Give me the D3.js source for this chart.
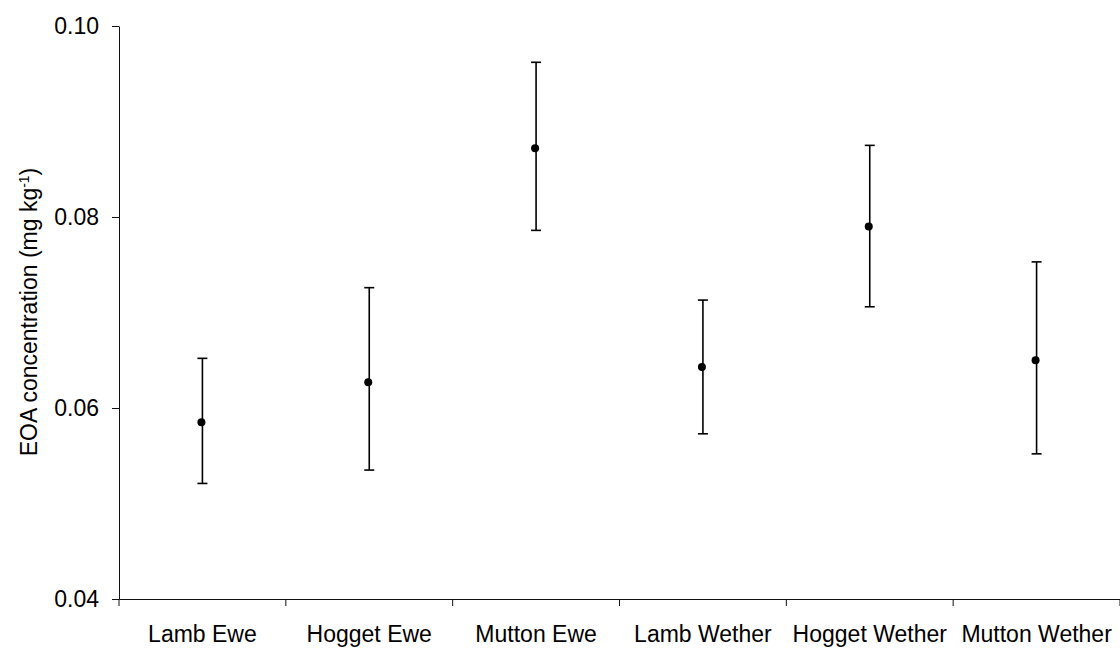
<!DOCTYPE html>
<html>
<head>
<meta charset="utf-8">
<script src="https://cdn.jsdelivr.net/npm/d3@7"></script>
<style>
  body { margin: 0; background: #fff; }
  svg text { font-family: "Liberation Sans", Arial, sans-serif; fill: #000; }
</style>
</head>
<body>
<div id="chart"></div>
<script>
// data
var groups = ["Lamb Ewe", "Hogget Ewe", "Mutton Ewe", "Lamb Wether", "Hogget Wether", "Mutton Wether"];
var means  = [0.0585, 0.0627, 0.0872, 0.0643, 0.0790, 0.0650];
var upper  = [0.0652, 0.0726, 0.0962, 0.0713, 0.0875, 0.0753];
var lower  = [0.0521, 0.0535, 0.0786, 0.0573, 0.0706, 0.0552];
var yTicks = [0.04, 0.06, 0.08, 0.10];

var width = 1120, height = 650;
var plotLeft = 119, plotRight = 1120, plotTop = 26, plotBottom = 599;

var svg = d3.select('#chart').append('svg')
  .attr('width', width)
  .attr('height', height);

var x = d3.scaleBand().domain(groups).range([plotLeft, plotRight]);
var y = d3.scaleLinear().domain([0.04, 0.10]).range([plotBottom, plotTop]);

// y axis
var yAxis = svg.append('g')
  .attr('transform', 'translate(' + plotLeft + ',0)')
  .call(d3.axisLeft(y).tickValues(yTicks).tickFormat(d3.format('.2f')).tickSize(7).tickPadding(13).tickSizeOuter(0));
yAxis.selectAll('text').style('font-size', '23px');
yAxis.selectAll('line, path').attr('stroke', '#111');

// x axis: labels centred in bands, tick marks at band edges
var xAxis = svg.append('g')
  .attr('transform', 'translate(0,' + plotBottom + ')')
  .call(d3.axisBottom(x).tickSize(0).tickPadding(27).tickSizeOuter(0));
xAxis.selectAll('text').style('font-size', '23px');
xAxis.select('path').attr('stroke', '#111');

var edges = groups.map(function (g) { return x(g); }).concat([plotRight]);
svg.append('g').selectAll('line').data(edges)
  .enter().append('line')
  .attr('x1', function (d) { return d; })
  .attr('x2', function (d) { return d; })
  .attr('y1', plotBottom)
  .attr('y2', plotBottom + 7)
  .attr('stroke', '#111');

// y label with superscript
var yl = svg.append('text')
  .attr('transform', 'translate(37,312) rotate(-90)')
  .attr('text-anchor', 'middle')
  .style('font-size', '23px');
yl.append('tspan').text('EOA concentration (mg kg');
yl.append('tspan').attr('dy', '-0.55em').style('font-size', '14px').text('-1');
yl.append('tspan').attr('dy', '0.35em').text(')');

// error bars and points
var cx = function (i) { return x(groups[i]) + x.bandwidth() / 2; };
var bars = svg.append('g').attr('stroke', '#000').attr('stroke-width', 1.6);
var idx = d3.range(groups.length);

bars.selectAll('line.v').data(idx).enter().append('line')
  .attr('class', 'v')
  .attr('x1', cx).attr('x2', cx)
  .attr('y1', function (i) { return y(upper[i]); })
  .attr('y2', function (i) { return y(lower[i]); });

bars.selectAll('line.t').data(idx).enter().append('line')
  .attr('class', 't')
  .attr('x1', function (i) { return cx(i) - 5; })
  .attr('x2', function (i) { return cx(i) + 5; })
  .attr('y1', function (i) { return y(upper[i]); })
  .attr('y2', function (i) { return y(upper[i]); });

bars.selectAll('line.b').data(idx).enter().append('line')
  .attr('class', 'b')
  .attr('x1', function (i) { return cx(i) - 5; })
  .attr('x2', function (i) { return cx(i) + 5; })
  .attr('y1', function (i) { return y(lower[i]); })
  .attr('y2', function (i) { return y(lower[i]); });

svg.append('g').selectAll('circle').data(idx)
  .enter().append('circle')
  .attr('cx', function (i) { return cx(i) - 1; })
  .attr('cy', function (i) { return y(means[i]); })
  .attr('r', 4)
  .attr('fill', '#000');
</script>
</body>
</html>
